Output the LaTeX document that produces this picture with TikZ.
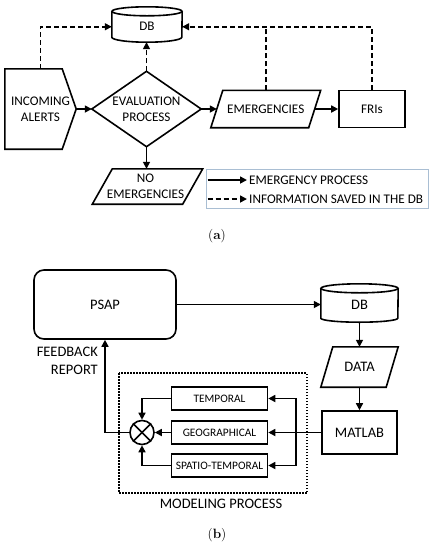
\documentclass[tikz,border=0pt]{standalone}
\usepackage{fontspec}
\newfontfamily\carlito{Carlito}
\usetikzlibrary{arrows.meta,calc}
\definecolor{legendc}{HTML}{A9BED3}
\begin{document}
\begin{tikzpicture}[x=1pt,y=1pt,
  shp/.style={line width=1.6pt},
  arr/.style={line width=1.6pt,-{Triangle[length=7pt,width=7pt]}},
  dsh/.style={arr,dash pattern=on 5pt off 3pt},
  dln/.style={line width=1.6pt,dash pattern=on 5pt off 3pt},
  ftop/.style={font=\carlito\fontsize{13.2}{16}\selectfont},
  fbig/.style={font=\carlito\fontsize{14.5}{17.5}\selectfont},
  fsmall/.style={font=\carlito\fontsize{11.4}{13}\selectfont},
  body/.style={inner sep=0pt,align=center},
  rbox/.style={body,draw,line width=1.6pt}]
\useasboundingbox (0,0) rectangle (433,-550);

% ---------------- (a) ----------------
\node[body,ftop,minimum width=71pt,minimum height=80pt] (inc) at (40.5,-109) {INCOMING\\ALERTS};
\draw[shp] (inc.north west) -- ([xshift=-14pt]inc.north east) -- (inc.east)
  -- ([xshift=-14pt]inc.south east) -- (inc.south west) -- cycle;

\node[body,ftop,minimum width=109pt,minimum height=75pt] (ev) at (146.5,-109) {EVALUATION\\PROCESS};
\draw[shp] (ev.west) -- (ev.north) -- (ev.east) -- (ev.south) -- cycle;

\node[body,ftop,minimum width=70pt,minimum height=30.5pt] (db) at (147,-26.75) {\raisebox{-1.5pt}{DB}};
\draw[shp] (db.north west) -- ([yshift=5pt]db.south west)
  arc[start angle=180,end angle=360,x radius=35pt,y radius=5pt] -- (db.north east);
\draw[shp] (db.north) ellipse[x radius=35pt,y radius=4.5pt];

\node[body,ftop,minimum width=97.5pt,minimum height=37pt] (em) at (265.75,-109) {EMERGENCIES};
\draw[shp] ([xshift=6pt]em.north west) -- ([xshift=6pt]em.north east)
  -- ([xshift=-6pt]em.south east) -- ([xshift=-6pt]em.south west) -- cycle;

\node[rbox,ftop,minimum width=66pt,minimum height=37pt] (fri) at (372,-109) {FRIs};

\node[body,ftop,minimum width=90pt,minimum height=35pt] (noem) at (147.5,-186.5) {\hspace*{-4pt}NO\\\hspace*{-4pt}EMERGENCIES};
\draw[shp] ([xshift=10pt]noem.north west) -- ([xshift=10pt]noem.north east)
  -- ([xshift=-10pt]noem.south east) -- ([xshift=-10pt]noem.south west) -- cycle;

\draw[arr] (inc.east) -- (ev.west);
\draw[arr] (ev.east) -- (em.west);
\draw[arr] (em.east) -- (fri.west);
\draw[arr] (ev.south) -- (ev.south |- noem.north);

\draw[dsh] (inc.north) |- (db.west);
\draw[dsh] (ev.north) -- (ev.north |- db.south);
\draw[dsh] (fri.north) |- (db.east);
\draw[dln] (em.north) -- (em.north |- db.east);

% legend
\node[draw=legendc,line width=0.8pt,minimum width=222pt,minimum height=39pt,inner sep=0pt] (leg) at (317,-188.5) {};
\coordinate (l1a) at (207.5,-180);
\coordinate (l1b) at (247,-180);
\coordinate (l2a) at (207.5,-199);
\coordinate (l2b) at (247,-199);
\draw[arr] (l1a) -- (l1b);
\draw[dsh] (l2a) -- (l2b);
\node[ftop,anchor=west,inner sep=0pt] (t1) at (249,-180) {EMERGENCY PROCESS};
\node[ftop,anchor=west,inner sep=0pt] (t2) at (249,-199) {INFORMATION SAVED IN THE DB};

\node[font=\fontsize{13.5}{15}\selectfont] (capa) at (217,-236) {(\textbf{a})};

% ---------------- (b) ----------------
\node[rbox,fbig,rounded corners=10pt,minimum width=142pt,minimum height=69pt] (psap) at (105,-304.5) {PSAP};

\node[body,fbig,minimum width=77pt,minimum height=33.5pt] (db2) at (359.5,-305.25) {\raisebox{-2pt}{DB}};
\draw[shp] (db2.north west) -- ([yshift=4pt]db2.south west)
  arc[start angle=180,end angle=360,x radius=38.5pt,y radius=4pt] -- (db2.north east);
\draw[shp] (db2.north) ellipse[x radius=38.5pt,y radius=4.5pt];

\node[body,fbig,minimum width=65pt,minimum height=40pt] (data) at (359.5,-367) {DATA};
\draw[shp] ([xshift=6pt]data.north west) -- ([xshift=6pt]data.north east)
  -- ([xshift=-6pt]data.south east) -- ([xshift=-6pt]data.south west) -- cycle;

\node[rbox,fbig,minimum width=75pt,minimum height=43pt] (matlab) at (359.5,-432.5) {MATLAB};

\node[rbox,fsmall,minimum width=96pt,minimum height=23pt] (temp) at (219.5,-398.5) {TEMPORAL};
\node[rbox,fsmall,minimum width=96pt,minimum height=23pt] (geo) at (219.5,-432.5) {GEOGRAPHICAL};
\node[rbox,fsmall,minimum width=96pt,minimum height=23pt] (spt) at (219.5,-465.5) {SPATIO-TEMPORAL};

\node[draw,circle,line width=1.6pt,minimum size=24pt,inner sep=0pt] (sum) at (142,-432.5) {};
\draw[shp] (sum.north west) -- (sum.south east);
\draw[shp] (sum.north east) -- (sum.south west);

\coordinate (br) at (296,-432.5);

\draw[line width=1.1pt,dash pattern=on 1.5pt off 1.5pt] (119,-373) rectangle (307,-493);
\node[fbig,inner sep=0pt] (model) at (221,-504) {MODELING PROCESS};
\node[fbig,body,align=right,anchor=east] (fb) at (98,-361) {FEEDBACK\\REPORT};

\draw[arr] (psap.east) -- (psap.east -| db2.west);
\draw[arr] (db2.south) -- (data.north);
\draw[arr] (data.south) -- (matlab.north);
\draw[arr] (matlab.west) -- (geo.east);
\draw[arr] (br) |- (temp.east);
\draw[arr] (br) |- (spt.east);
\draw[arr] (temp.west) -| (sum.north);
\draw[arr] (spt.west) -| (sum.south);
\draw[arr] (geo.west) -- (sum.east);
\draw[arr] (sum.west) -| (psap.south);

\node[font=\fontsize{13.5}{15}\selectfont] (capb) at (217,-535) {(\textbf{b})};
\end{tikzpicture}
\end{document}
